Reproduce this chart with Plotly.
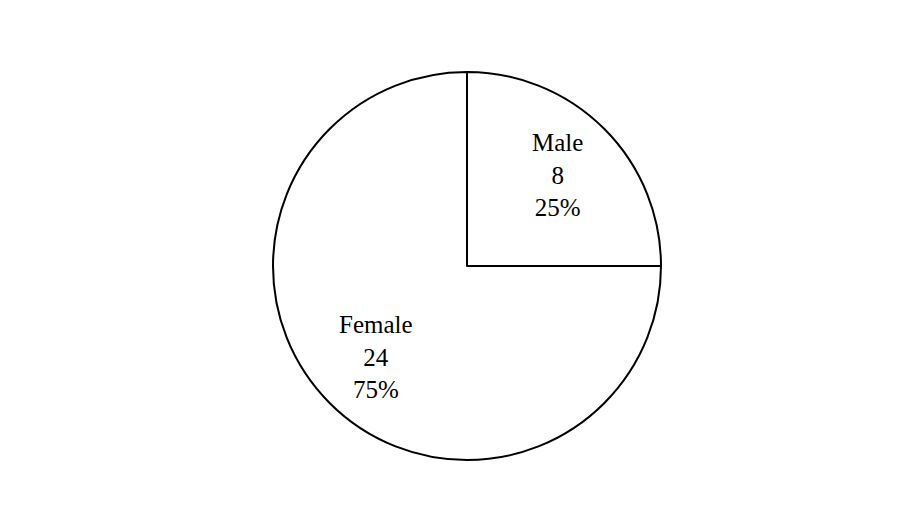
import math
import plotly.graph_objects as go

labels = ["Male", "Female"]
values = [8, 24]

W, H = 910, 520
dom_x = [273 / W, 661 / W]
dom_y = [1 - 460 / H, 1 - 72 / H]

fig = go.Figure(go.Pie(
    labels=labels,
    values=values,
    sort=False,
    direction="clockwise",
    rotation=0,
    marker=dict(colors=["white", "white"], line=dict(color="black", width=2)),
    textinfo="none",
    hoverinfo="skip",
    domain=dict(x=dom_x, y=dom_y),
    showlegend=False,
))

# labels placed along each slice's mid-angle
cx = (dom_x[0] + dom_x[1]) / 2
cy = (dom_y[0] + dom_y[1]) / 2
R_px = (dom_y[1] - dom_y[0]) * H / 2
total = sum(values)
cum = 0
for lab, v in zip(labels, values):
    mid = (cum + v / 2) / total * 2 * math.pi
    cum += v
    r = 0.66 * R_px
    x = cx + r * math.sin(mid) / W
    y = cy + r * math.cos(mid) / H
    fig.add_annotation(
        x=x, y=y, xref="paper", yref="paper",
        xanchor="center", yanchor="middle",
        text=f"{lab}<br>{v}<br>{round(100 * v / total)}%",
        showarrow=False, align="center",
        font=dict(family="Liberation Serif", size=25, color="black"),
    )

fig.update_layout(
    width=W, height=H,
    margin=dict(l=0, r=0, t=0, b=0),
    paper_bgcolor="white",
    plot_bgcolor="white",
)
fig.write_html("out.html")
